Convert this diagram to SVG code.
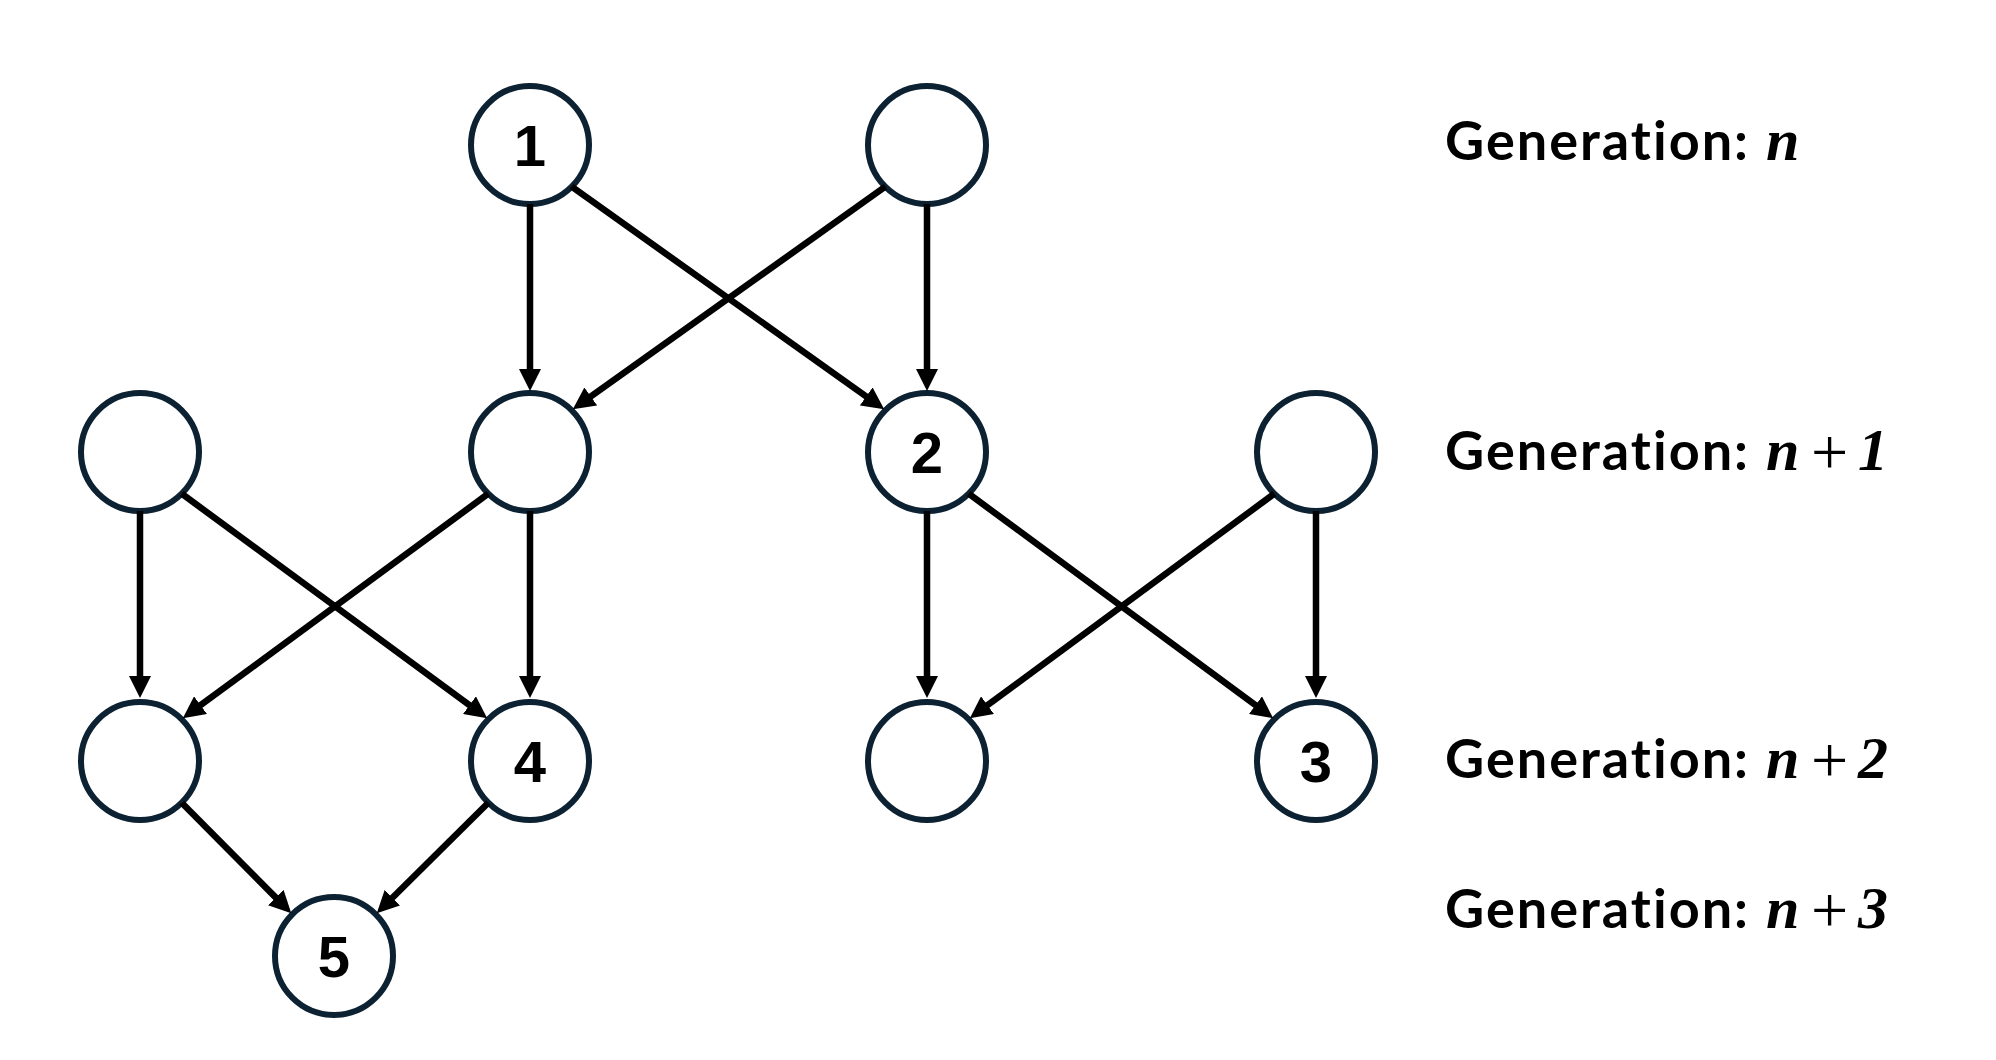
<svg xmlns="http://www.w3.org/2000/svg" width="1996" height="1060" viewBox="0 0 1996 1060">
  <defs>
    <marker id="arrow" markerUnits="userSpaceOnUse" markerWidth="22" markerHeight="22" refX="11" refY="11" orient="auto">
      <path d="M0,0 L22,11 L0,22 Z" fill="#000"/>
    </marker>
    <style>
      .node circle { fill: #fff; stroke: #0c2131; stroke-width: 6; }
      .node text { font-family: "Liberation Sans", Arial, sans-serif; font-weight: bold; font-size: 58px; text-anchor: middle; fill: #000; }
      .edge { stroke: #000; stroke-width: 6.5; fill: none; marker-end: url(#arrow); }
      .gen { font-family: Lato, "Noto Sans", sans-serif; font-weight: bold; font-size: 54px; letter-spacing: 2px; font-variant-ligatures: none; font-feature-settings: "liga" 0; fill: #000; }
      .math { font-family: "Liberation Serif", "Times New Roman", serif; letter-spacing: 0; }
      .var { font-style: italic; font-weight: bold; font-size: 60px; }
      .op { font-style: normal; font-weight: normal; font-size: 66px; }
    </style>
  </defs>
  <rect width="1996" height="1060" fill="#fff"/>

  <!-- generation n -->
  <g id="node-1" class="node"><circle cx="530" cy="145" r="59"/><text x="530" y="166">1</text></g>
  <g id="node-b" class="node"><circle cx="927" cy="145" r="59"/></g>

  <!-- generation n+1 -->
  <g id="node-c" class="node"><circle cx="140" cy="452" r="59"/></g>
  <g id="node-d" class="node"><circle cx="530" cy="452" r="59"/></g>
  <g id="node-2" class="node"><circle cx="927" cy="452" r="59"/><text x="927" y="473">2</text></g>
  <g id="node-f" class="node"><circle cx="1316" cy="452" r="59"/></g>

  <!-- generation n+2 -->
  <g id="node-g" class="node"><circle cx="140" cy="761" r="59"/></g>
  <g id="node-4" class="node"><circle cx="530" cy="761" r="59"/><text x="530" y="782">4</text></g>
  <g id="node-i" class="node"><circle cx="927" cy="761" r="59"/></g>
  <g id="node-3" class="node"><circle cx="1316" cy="761" r="59"/><text x="1316" y="782">3</text></g>

  <!-- generation n+3 -->
  <g id="node-5" class="node"><circle cx="334" cy="956" r="59"/><text x="334" y="977">5</text></g>

  <g id="connectors">
    <line class="edge" x1="530" y1="204" x2="530" y2="380"/>
    <line class="edge" x1="927" y1="204" x2="927" y2="380"/>
    <line class="edge" x1="571.7" y1="186.7" x2="875.2" y2="402.8"/>
    <line class="edge" x1="885.3" y1="186.7" x2="581.8" y2="402.8"/>

    <line class="edge" x1="140" y1="511" x2="140" y2="687"/>
    <line class="edge" x1="181.7" y1="493.7" x2="478.3" y2="711.7"/>
    <line class="edge" x1="488.3" y1="493.7" x2="191.7" y2="711.7"/>
    <line class="edge" x1="530" y1="511" x2="530" y2="687"/>

    <line class="edge" x1="927" y1="511" x2="927" y2="687"/>
    <line class="edge" x1="968.7" y1="493.7" x2="1264.3" y2="711.7"/>
    <line class="edge" x1="1274.3" y1="493.7" x2="978.7" y2="711.7"/>
    <line class="edge" x1="1316" y1="511" x2="1316" y2="687"/>

    <line class="edge" x1="181.7" y1="802.7" x2="283.5" y2="905.4"/>
    <line class="edge" x1="488.3" y1="802.7" x2="384.6" y2="905.5"/>
  </g>

  <g id="generation-labels">
    <text class="gen" x="1445" y="160">Generation:<tspan class="math var" x="1766">n</tspan></text>
    <text class="gen" x="1445" y="470">Generation:<tspan class="math var" x="1766">n</tspan><tspan class="math op" x="1811" y="474">+</tspan><tspan class="math var" x="1858" y="470">1</tspan></text>
    <text class="gen" x="1445" y="778">Generation:<tspan class="math var" x="1766">n</tspan><tspan class="math op" x="1811" y="782">+</tspan><tspan class="math var" x="1858" y="778">2</tspan></text>
    <text class="gen" x="1445" y="928">Generation:<tspan class="math var" x="1766">n</tspan><tspan class="math op" x="1811" y="932">+</tspan><tspan class="math var" x="1858" y="928">3</tspan></text>
  </g>
</svg>
